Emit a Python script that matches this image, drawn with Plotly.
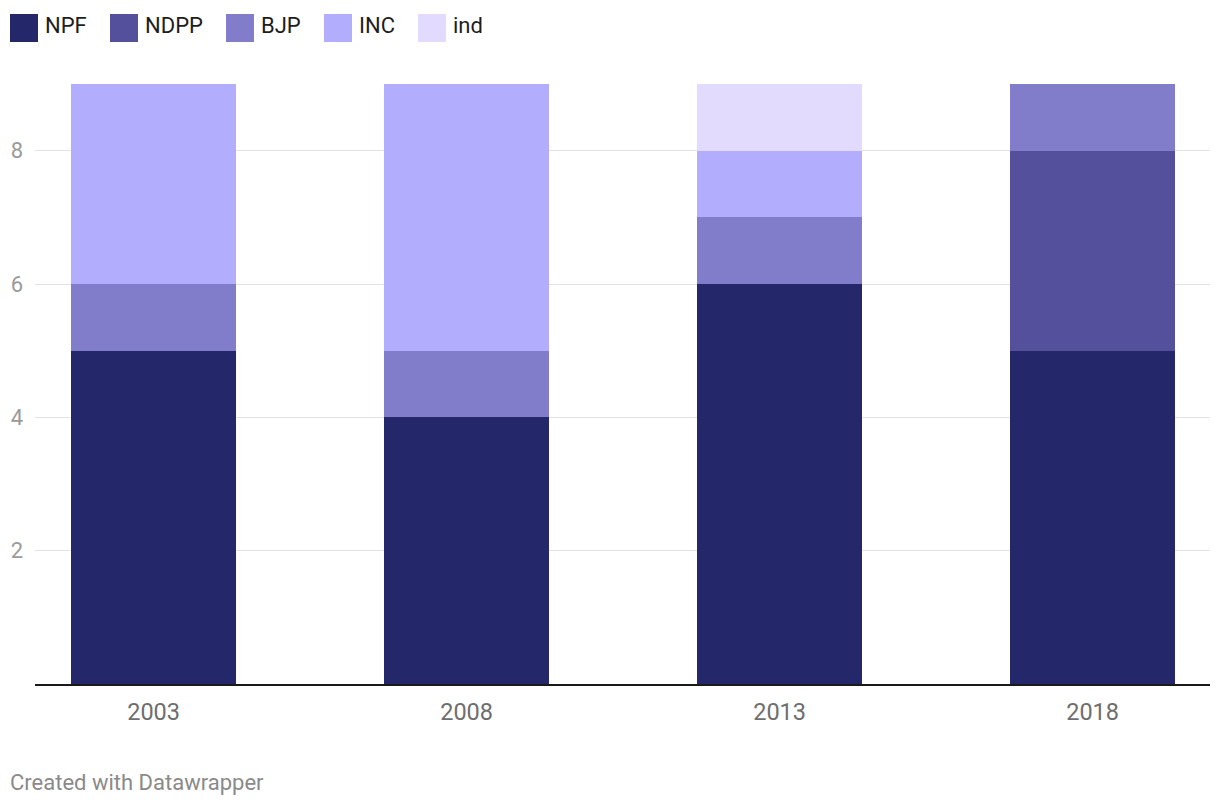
import plotly.graph_objects as go

years = ["2003", "2008", "2013", "2018"]
series_names = ["NPF", "NDPP", "BJP", "INC", "ind"]
npf = [5, 4, 6, 5]
ndpp = [0, 0, 0, 3]
bjp = [1, 1, 1, 1]
inc = [3, 4, 1, 0]
ind = [0, 0, 1, 0]
series_values = [npf, ndpp, bjp, inc, ind]
colors = ["#24286b", "#54509b", "#827dca", "#b2adfd", "#e2dbfe"]
y_ticks = [2, 4, 6, 8]

# page body has an 8px margin; work in page pixel coords and offset
OFF = 8
W, H = 1220 - OFF, 808 - OFF
PLOT_L, PLOT_R, PLOT_T, PLOT_B = 35, 1210, 84, 684  # page coords
ML = PLOT_L - OFF
MR = W - (PLOT_R - OFF)
MT = PLOT_T - OFF
MB = H - (PLOT_B - OFF)
PW, PH = PLOT_R - PLOT_L, PLOT_B - PLOT_T


def px_x(x):
    return (x - PLOT_L) / PW


def px_y(y):
    return (PLOT_B - y) / PH


fig = go.Figure()
for name, vals, col in zip(series_names, series_values, colors):
    fig.add_trace(go.Bar(
        x=years, y=vals, name=name, width=0.527,
        marker=dict(color=col, line=dict(width=0)),
        showlegend=False,
    ))

# custom legend (large swatches like the reference)
sq_left = [10, 110, 226, 324, 418]
shapes = []
annotations = []
for name, col, x0 in zip(series_names, colors, sq_left):
    shapes.append(dict(type="rect", xref="paper", yref="paper",
                       x0=px_x(x0), x1=px_x(x0 + 28), y0=px_y(42), y1=px_y(14),
                       fillcolor=col, line=dict(width=0), layer="above"))
    annotations.append(dict(text=name, xref="paper", yref="paper",
                            x=px_x(x0 + 33), y=px_y(26), xanchor="left", yanchor="middle",
                            showarrow=False, font=dict(family="Roboto", size=22, color="#1d1d1d")))

annotations.append(dict(text="Created with Datawrapper", xref="paper", yref="paper",
                        x=px_x(8), y=px_y(782), xanchor="left", yanchor="middle",
                        showarrow=False, font=dict(family="Roboto", size=22, color="#8a8a8a")))

fig.update_layout(
    width=W, height=H,
    margin=dict(l=ML, r=MR, t=MT, b=MB, pad=0),
    barmode="stack",
    bargap=0,
    plot_bgcolor="white", paper_bgcolor="white",
    font=dict(family="Roboto"),
    shapes=shapes,
    annotations=annotations,
    xaxis=dict(
        type="category",
        range=[-0.379, 3.375],
        automargin=False,
        showgrid=False, zeroline=False,
        showline=True, linecolor="#1a1a1a", linewidth=2,
        ticks="", ticklabelstandoff=6,
        tickfont=dict(family="Roboto", size=23.5, color="#6e6e6e"),
    ),
    yaxis=dict(
        range=[0, 9],
        tickvals=y_ticks,
        automargin=False,
        showgrid=True, gridcolor="#e3e3e3", gridwidth=1,
        zeroline=False, showline=False,
        ticks="", ticklabelstandoff=11,
        tickfont=dict(family="Roboto", size=22, color="#9a9a9a"),
    ),
)

fig.write_html("out.html")
